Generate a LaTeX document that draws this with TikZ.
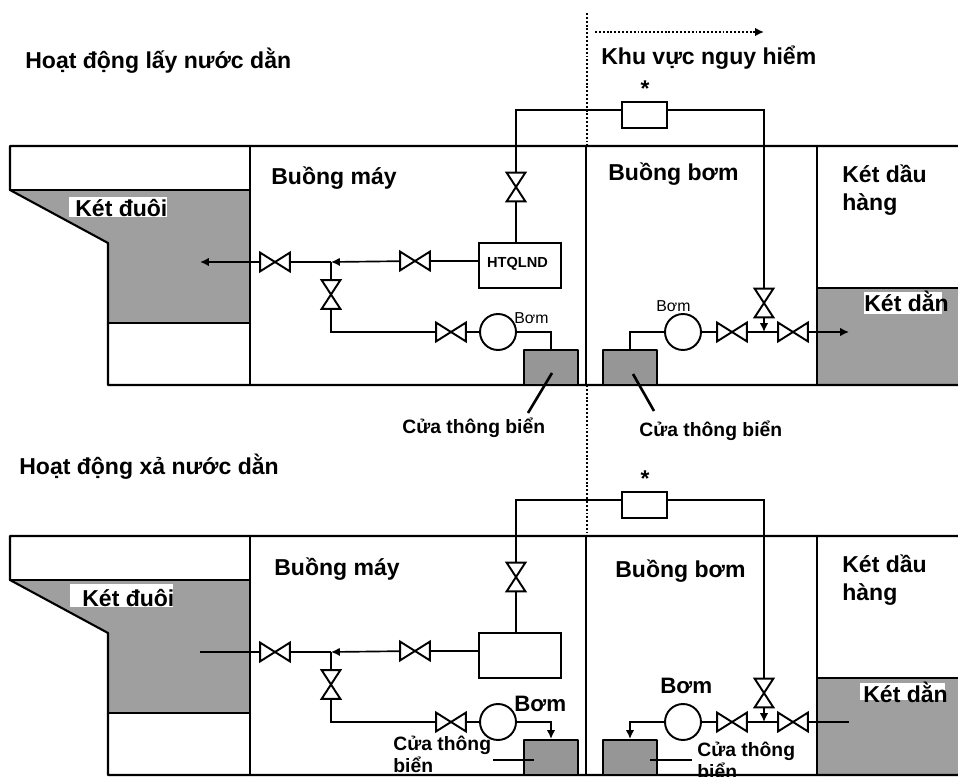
\documentclass[tikz,border=0pt]{standalone}
\usepackage{fontspec}
\setmainfont{Liberation Sans}
\usetikzlibrary{arrows.meta}

\tikzset{
  hull/.style={line width=1.2pt, line cap=round, line join=round},
  pipe/.style={line width=0.95pt, line join=miter},
  valvelines/.style={line width=1.1pt, line join=miter},
  valveh/.style={inner sep=0pt, minimum width=0.58cm, minimum height=0.36cm,
    append after command={\pgfextra{\let\vnode\tikzlastnode
      \draw [valvelines] (\vnode.north west) -- (\vnode.south west) -- (\vnode.north east) -- (\vnode.south east) -- cycle;}}},
  valvev/.style={inner sep=0pt, minimum width=0.36cm, minimum height=0.56cm,
    append after command={\pgfextra{\let\vnode\tikzlastnode
      \draw [valvelines] (\vnode.north west) -- (\vnode.north east) -- (\vnode.south west) -- (\vnode.south east) -- cycle;}}},
  pump/.style={draw, circle, line width=1.1pt, inner sep=0pt, minimum size=0.72cm},
  chest/.style={draw, hull, fill=gray!82, inner sep=0pt, minimum width=1.08cm, minimum height=0.7cm},
  box/.style={draw, line width=1.1pt, inner sep=0pt},
  lbl/.style={anchor=base west, inner sep=0pt, align=left, font=\bfseries\fontsize{13.1}{15.9}\selectfont},
  lblpump/.style={lbl, font=\bfseries\fontsize{12.7}{15}\selectfont},
  lblsmall/.style={anchor=base west, inner sep=0pt, font=\fontsize{9}{11}\selectfont},
  lblsea/.style={anchor=base west, inner sep=0pt, align=left, font=\bfseries\fontsize{11}{12.5}\selectfont},
  dots/.style={line width=1pt, dash pattern=on 1.1pt off 1.1pt}
}

\begin{document}
\begin{tikzpicture}[x=0.02cm, y=-0.02cm, >={Latex[length=5pt,width=4.8pt]}]

  \useasboundingbox (0,0) rectangle (958,777);

  \foreach \dy/\hh in {0/up, 390/lo} {
  \begin{scope}[shift={(0,\dy)}]

    % tanks
    \fill [gray!75] (10,190) -- (250,190) -- (250,323) -- (108,323) -- (108,243) -- cycle;
    \fill [gray!75] (817,288) rectangle (958,385);

    % hull
    \draw [hull] (958,146) -- (10,146) -- (10,190) -- (108,243) -- (108,385) -- (958,385);
    \draw [hull] (10,190) -- (250,190);
    \draw [hull] (108,323) -- (250,323);
    \draw [hull] (250,146) -- (250,385);
    \draw [hull] (586,146) -- (586,385);
    \draw [hull] (817,146) -- (817,385);
    \draw [hull] (817,288) -- (958,288);

    % boxes, pumps, valves
    \node [box, minimum width=1.64cm, minimum height=0.9cm] (\hh-sys) at (520,265.5) {};
    \node [box, minimum width=0.9cm, minimum height=0.52cm] (\hh-star) at (644.5,115) {};
    \node [pump] (\hh-pumpL) at (498,332) {};
    \node [pump] (\hh-pumpR) at (683,332) {};
    \node [chest] (\hh-chestL) at (551,367.5) {};
    \node [chest] (\hh-chestR) at (630,367.5) {};

    \node [valveh] (\hh-vA) at (275,262) {};
    \node [valveh] (\hh-vB) at (415,261) {};
    \node [valveh] (\hh-vC) at (451,332) {};
    \node [valveh] (\hh-vD) at (732,332) {};
    \node [valveh] (\hh-vE) at (793,332) {};
    \node [valvev] (\hh-vF) at (331,294.5) {};
    \node [valvev] (\hh-vG) at (516,187) {};
    \node [valvev] (\hh-vH) at (764,303) {};

    \coordinate (\hh-endL) at (200,262);
    \coordinate (\hh-teeL) at (331,262);
    \coordinate (\hh-cornL) at (331,332);
    \coordinate (\hh-upL) at (516,110);
    \coordinate (\hh-upR) at (764,110);
    \coordinate (\hh-teeR) at (764,332);
    \coordinate (\hh-endR) at (849,332);
    \coordinate (\hh-dropL) at (551,332);
    \coordinate (\hh-dropR) at (630,332);

    % pipes
    \draw [pipe] (\hh-sys.north -| \hh-vG) -- (\hh-vG);
    \draw [pipe] (\hh-vG) -- (\hh-upL) -- (\hh-star.west |- \hh-upL);
    \draw [pipe] (\hh-star.east |- \hh-upR) -- (\hh-upR) -- (\hh-vH);
    \draw [pipe] (\hh-sys.west |- \hh-vB) -- (\hh-vB);
    \draw [->][pipe] (\hh-vB) -- (\hh-teeL);
    \draw [pipe] (\hh-teeL) -- (\hh-vA);
    \draw [pipe] (\hh-teeL) -- (\hh-vF);
    \draw [pipe] (\hh-vF) -- (\hh-cornL) -- (\hh-vC);
    \draw [pipe] (\hh-vC) -- (\hh-pumpL);
    \draw [pipe] (\hh-pumpR) -- (\hh-vD);
    \draw [pipe] (\hh-vD) -- (\hh-vE);
    \draw [->][pipe] (\hh-vH) -- (\hh-teeR);

    % labels
    \node [lbl] (\hh-engine) at (\dy/130+271,185) {Buồng máy};
    \node [lbl] (\hh-cargo) at (842,210.5) {Két dầu\\hàng};
    \node [font=\bfseries\fontsize{13}{15.9}\selectfont, inner sep=0pt] (\hh-mark) at (645,89) {*};

  \end{scope}
  }

  % top part only
  \draw [->][pipe] (up-vA) -- (up-endL);
  \draw [->][pipe] (up-vE) -- (up-endR);
  \draw [pipe] (up-pumpL) -- (up-dropL) -- (up-chestL);
  \draw [pipe] (up-pumpR) -- (up-dropR) -- (up-chestR);

  % bottom part only
  \draw [pipe] (lo-vA) -- (lo-endL);
  \draw [pipe] (lo-vE) -- (lo-endR);
  \draw [->][pipe] (lo-pumpL) -- (lo-dropL) -- (lo-chestL);
  \draw [->][pipe] (lo-pumpR) -- (lo-dropR) -- (lo-chestR);

  % sea chest lines
  \coordinate (seaA) at (528,413);
  \coordinate (seaB) at (552,373);
  \coordinate (seaC) at (654,411);
  \coordinate (seaD) at (633,374);
  \coordinate (seaE) at (493,760);
  \coordinate (seaF) at (534,760);
  \coordinate (seaG) at (650,760);
  \coordinate (seaH) at (692,760);
  \draw [line width=1.5pt] (seaA) -- (seaB);
  \draw [line width=1.5pt] (seaC) -- (seaD);
  \draw [line width=1.5pt] (seaE) -- (seaF);
  \draw [line width=1.5pt] (seaG) -- (seaH);

  % danger zone
  \coordinate (zoneA) at (587,13);
  \coordinate (zoneB) at (587,146);
  \coordinate (zoneC) at (587,385);
  \coordinate (zoneD) at (587,533);
  \coordinate (zoneE) at (595,32);
  \coordinate (zoneF) at (764,32);
  \draw [dots] (zoneA) -- (zoneB);
  \draw [dots] (zoneC) -- (zoneD);
  \draw [->][dots] (zoneE) -- (zoneF);

  % white behind tank names
  \fill [white] (69,197) rectangle (167,217);
  \fill [white] (70,584) rectangle (173,607);
  \fill [white] (864,292) rectangle (942,314);
  \fill [white] (860,683) rectangle (945,700);

  % texts
  \node [lbl] (titleUp) at (25,69) {Hoạt động lấy nước dằn};
  \node [lbl] (titleLo) at (19,474) {Hoạt động xả nước dằn};
  \node [lbl] (zone) at (601,65) {Khu vực nguy hiểm};
  \node [lbl] (pumproomUp) at (608,181) {Buồng bơm};
  \node [lbl] (pumproomLo) at (615,577) {Buồng bơm};
  \node [lbl] (sternUp) at (75,216) {Két đuôi};
  \node [lbl] (sternLo) at (82,606) {Két đuôi};
  \node [lbl] (ballastUp) at (864,312) {Két dằn};
  \node [lbl] (ballastLo) at (863,702) {Két dằn};
  \node [font=\bfseries\fontsize{8.3}{10}\selectfont, inner sep=0pt] (sysname) at (517.5,264) {HTQLND};
  \node [lblsmall] (pumpUpL) at (514,323) {Bơm};
  \node [lblsmall] (pumpUpR) at (656,312) {Bơm};
  \node [lblpump] (pumpLoL) at (514,711) {Bơm};
  \node [lblpump] (pumpLoR) at (660,693) {Bơm};
  \node [lblsea] (seaUpL) at (402,433) {Cửa thông biển};
  \node [lblsea] (seaUpR) at (639,437) {Cửa thông biển};
  \node [lblsea] (seaLoL) at (393,772) {Cửa thông\\biển};
  \node [lblsea] (seaLoR) at (697,778) {Cửa thông\\biển};

\end{tikzpicture}
\end{document}
